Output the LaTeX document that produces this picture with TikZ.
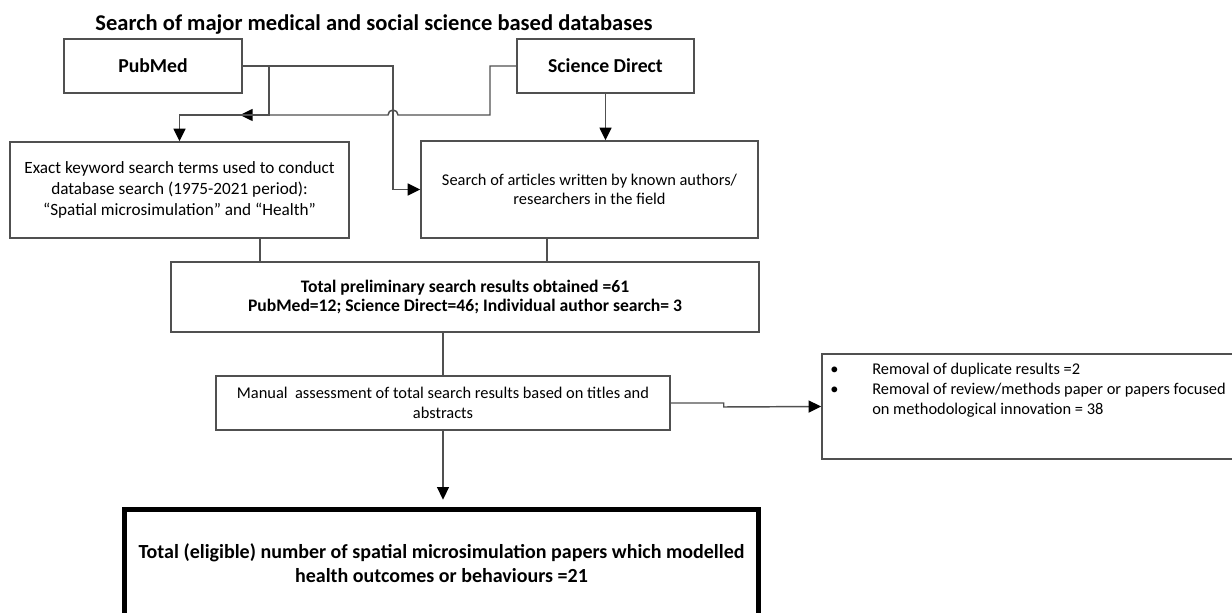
\documentclass[tikz,border=0pt]{standalone}
\usepackage{fontspec}
\setmainfont{Carlito}
\usetikzlibrary{arrows.meta}
\definecolor{linegray}{RGB}{80,80,80}
\begin{document}
\begin{tikzpicture}[x=0.75pt,y=-0.75pt,
  box/.style={draw=linegray, line width=1.1pt, align=center, inner sep=0pt, text=black},
  conn/.style={draw=linegray, line width=1.1pt},
  arr/.style={conn, -{Triangle[length=9.5pt,width=9pt,color=black]}},
]
\useasboundingbox (0,0) rectangle (1232,613);

\node[font=\bfseries\fontsize{16.9}{19}\selectfont] (title) at (374,24) {Search of major medical and social science based databases};

\node[box, font=\bfseries\fontsize{14.8}{17}\selectfont, minimum width=133.5pt, minimum height=40.5pt] (pm) at (153,66) {PubMed};
\node[box, font=\bfseries\fontsize{14.8}{17}\selectfont, minimum width=132.75pt, minimum height=40.5pt] (sd) at (605.5,66) {Science Direct};

\node[box, font=\fontsize{12.9}{15.75}\selectfont, minimum width=254.25pt, minimum height=72pt] (ex) at (179.5,190)
  {Exact keyword search terms used to conduct\\database search (1975-2021 period):\\“Spatial microsimulation” and “Health”};
\node[box, font=\fontsize{12.3}{14.5}\selectfont, minimum width=252.75pt, minimum height=72.75pt] (sa) at (589.5,189.5)
  {Search of articles written by known authors/\\researchers in the field};

\node[box, font=\bfseries\fontsize{13.2}{14.5}\selectfont, minimum width=441pt, minimum height=52.5pt] (tot) at (465,297)
  {Total preliminary search results obtained =61\\PubMed=12; Science Direct=46; Individual author search= 3};

\node[box, font=\fontsize{12.3}{15}\selectfont, minimum width=340.5pt, minimum height=40.5pt] (man) at (443,403)
  {Manual\ \ assessment of total search results based on titles and\\abstracts};

\node[box, minimum width=317.25pt, minimum height=78.75pt] (rem) at (1033.5,406.5) {};
\node[anchor=north west, inner sep=0pt, align=left, font=\fontsize{12.3}{15}\selectfont] (remtxt) at (830,360)
  {\begin{tabular}{@{}p{31.5pt}@{}l@{}}
   \textbullet & Removal of duplicate results =2\\
   \textbullet & Removal of review/methods paper or papers focused\\
    & on methodological innovation = 38
  \end{tabular}};

\node[draw=black, line width=3.75pt, align=center, inner sep=0pt, minimum width=475.5pt, minimum height=80.25pt,
  font=\bfseries\fontsize{15}{18}\selectfont] (fin) at (441.5,563)
  {Total (eligible) number of spatial microsimulation papers which modelled\\health outcomes or behaviours =21};

% connectors
\coordinate (jn) at (240,115);
\coordinate (xa) at (269,0);
\coordinate (xb) at (393,0);
\coordinate (xc) at (490,0);
\coordinate (xd) at (260,0);
\coordinate (xe) at (547,0);
\coordinate (ya) at (0,115);

\draw[arr] (sd.west) -- (sd.west -| xc) -- (xc |- ya) -- (398,115) arc (0:-180:5) -- (jn);
\draw[conn] (pm.east) -- (pm.east -| xa) -- (xa |- ya) -- (jn);
\draw[arr] (jn) -| (ex.north);
\draw[arr] (pm.east) -- (pm.east -| xb) |- (sa.west);
\draw[arr] (sd.south) -- (sd.south |- sa.north);
\draw[conn] (ex.south -| xd) -- (tot.north -| xd);
\draw[conn] (sa.south -| xe) -- (tot.north -| xe);
\draw[conn] (man.north |- tot.south) -- (man.north);
\draw[arr] (man.east) -- ++(53,0) -- ++(0,4) -- (rem.west);
\draw[arr, shorten >=5.5pt] (man.south) -- (man.south |- fin.north);
\end{tikzpicture}
\end{document}
